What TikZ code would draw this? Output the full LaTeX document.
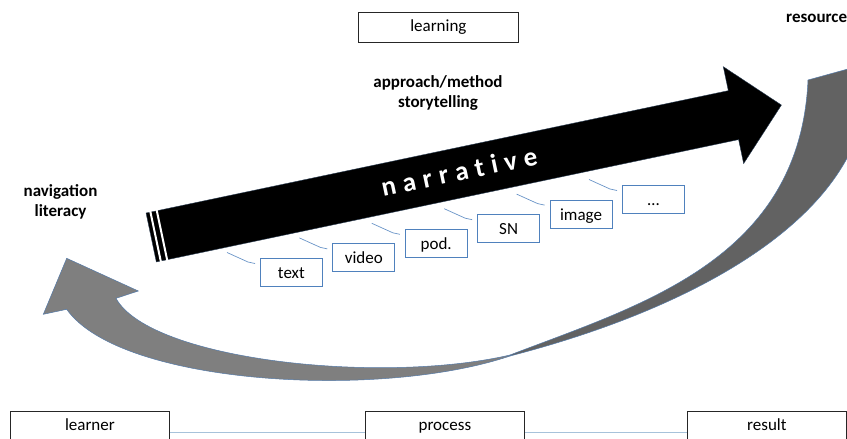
\documentclass[tikz,border=0pt]{standalone}
\usepackage{fontspec}
\setmainfont{Carlito}
\definecolor{calloutblue}{RGB}{79,129,189}
\definecolor{linkblue}{RGB}{167,194,218}
\definecolor{greyfront}{RGB}{127,127,127}
\definecolor{greyback}{RGB}{98,98,98}
\definecolor{edgeblue}{RGB}{84,122,168}
\newcommand\nsp{\hspace{7pt}}
\begin{document}
\begin{tikzpicture}[x=1pt,y=-1pt,
  mediabox/.style={draw=calloutblue, line width=0.8pt, anchor=north west,
    minimum width=62pt, inner xsep=0pt, inner ysep=0pt,
    text height=20pt, text depth=8pt, font=\fontsize{17}{20}\selectfont},
  framebox/.style={draw=black!85, line width=0.8pt, anchor=north west,
    minimum width=159pt, inner xsep=0pt, inner ysep=0pt,
    font=\fontsize{17}{20}\selectfont},
  boldlabel/.style={font=\bfseries\fontsize{17}{20}\selectfont, inner sep=0pt, anchor=base},
  callout/.style={draw=calloutblue!85, line width=0.7pt},
  link/.style={draw=linkblue, line width=1pt},
  narr/.style={font=\bfseries\fontsize{27}{30}\selectfont, text=white, inner sep=0pt, anchor=base}]
\useasboundingbox (0,0) rectangle (847,439);
\clip (0,0) rectangle (847,439);

% return arrow: back part (right side, darker)
\path[fill=greyback, draw=edgeblue, line width=0.5pt]
  (510,355) .. controls (640,305) and (800,260) .. (808,80)
  -- (866,64)
  .. controls (882,205) and (708,305) .. (510,356)
  -- cycle;
% return arrow: front part with head
\path[fill=greyfront, draw=edgeblue, line width=0.5pt]
  (66.7,309.3) -- (43.3,314.3) -- (66.7,258.3) -- (138.3,291) -- (116,298.3)
  .. controls (150,360) and (380,385) .. (510,355)
  -- (510,356)
  .. controls (380,400) and (120,385) .. (66.7,309.3)
  -- cycle;

% narrative arrow
\begin{scope}[shift={(151.2,237.5)}, rotate=11.87]
  \path[fill=black, draw=edgeblue!50!black, line width=0.4pt]
    (0,-25) -- (595,-25) -- (595,-49.5) -- (644,0) -- (595,49.5) -- (595,25) -- (0,25) -- cycle;
  \fill[white] (3.5,-26) rectangle (5.5,26);
  \fill[white] (10,-26) rectangle (12,26);
  \node[narr, transform shape] (narr) at (315,8)
    {n\nsp a\nsp r\nsp r\nsp a\nsp t\nsp i\nsp v\nsp e};
\end{scope}

% labels
\node[framebox, text height=19pt, text depth=11pt, minimum width=160pt] (learning) at (358,12) {learning};
\node[boldlabel, anchor=base west] (resource) at (786,23) {resource};
\node[boldlabel] (approach) at (438,87) {approach/method};
\node[boldlabel] (story) at (438,107) {storytelling};
\node[boldlabel] (navigation) at (60.5,196) {navigation};
\node[boldlabel] (literacy) at (60.5,216) {literacy};

% media boxes
\node[mediabox] (mtext)  at (260,258)   {text};
\node[mediabox] (mvideo) at (332.4,243.4) {video};
\node[mediabox] (mpod)   at (404.8,228.8) {pod.};
\node[mediabox] (msn)    at (477.2,214.2) {SN};
\node[mediabox] (mimage) at (549.6,199.6) {image};
\node[mediabox] (mmore)  at (622,185)   {\ldots};
\foreach \nm in {mtext,mvideo,mpod,msn,mimage,mmore}
  \draw[callout] ([shift={(-33,-5.5)}]\nm.north west) -- ([shift={(-12,4)}]\nm.north west)
    -- ([shift={(-5,5.5)}]\nm.north west);

% bottom row
\node[framebox, text height=19pt, text depth=23pt] (learner) at (10,411) {learner};
\node[framebox, text height=19pt, text depth=23pt] (process) at (365,411) {process};
\node[framebox, text height=19pt, text depth=23pt] (result) at (687,411) {result};
\draw[link] (learner) -- (process);
\draw[link] (process) -- (result);
\end{tikzpicture}
\end{document}
